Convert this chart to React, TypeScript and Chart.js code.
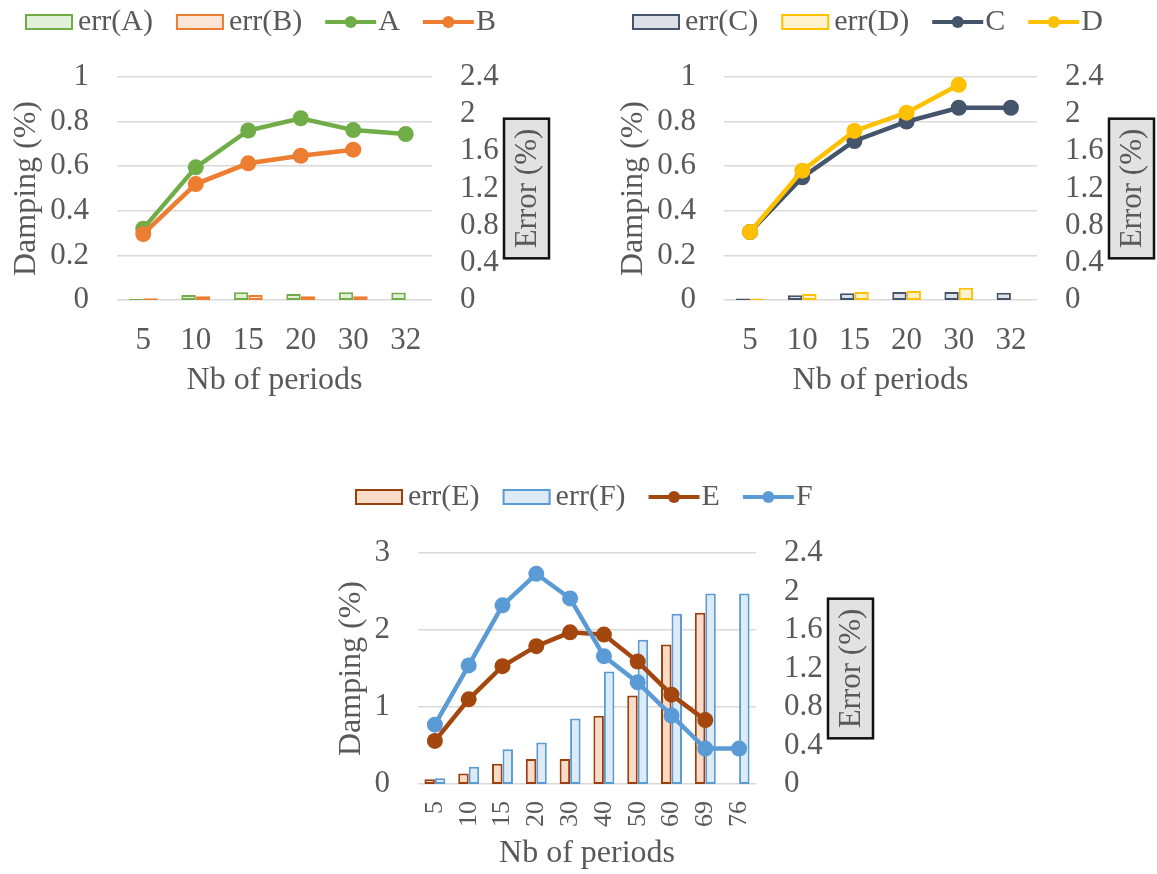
import React, { useEffect, useRef } from 'react';
import { Chart, registerables } from 'chart.js';

Chart.register(...registerables);

const FONT = '"Liberation Serif", "Times New Roman", serif';
const TEXT = '#595959';
const GRID = '#d9d9d9';

// ---------- Chart 1 (A / B) ----------
const periodsAB = ['5', '10', '15', '20', '30', '32'];
const dampA = [0.32, 0.595, 0.76, 0.815, 0.762, 0.744];
const dampB = [0.296, 0.52, 0.613, 0.647, 0.674, null];
const errA = [0.01, 0.054, 0.083, 0.065, 0.083, 0.08];
const errB = [0.018, 0.04, 0.054, 0.04, 0.04, null];

// ---------- Chart 2 (C / D) ----------
const periodsCD = ['5', '10', '15', '20', '30', '32'];
const dampC = [0.305, 0.55, 0.713, 0.8, 0.862, 0.862];
const dampD = [0.305, 0.58, 0.758, 0.84, 0.965, null];
const errC = [0.015, 0.05, 0.072, 0.086, 0.086, 0.079];
const errD = [0.015, 0.065, 0.086, 0.097, 0.133, null];

// ---------- Chart 3 (E / F) ----------
const periodsEF = ['5', '10', '15', '20', '30', '40', '50', '60', '69', '76'];
const dampE = [0.56, 1.1, 1.53, 1.79, 1.97, 1.94, 1.59, 1.16, 0.83, null];
const dampF = [0.77, 1.54, 2.32, 2.73, 2.41, 1.66, 1.32, 0.89, 0.46, 0.46];
const errE = [0.05, 0.11, 0.21, 0.26, 0.26, 0.71, 0.92, 1.45, 1.78, null];
const errF = [0.06, 0.18, 0.36, 0.43, 0.68, 1.17, 1.5, 1.77, 1.98, 1.98];

// ---------- Tick values ----------
const dampTicksTop = [0, 0.2, 0.4, 0.6, 0.8, 1];
const dampTicksBottom = [0, 1, 2, 3];
const errTicks = [0, 0.4, 0.8, 1.2, 1.6, 2, 2.4];

const fmt = (v: any) => String(parseFloat(Number(v).toFixed(1)));

type Series = { label: string; data: (number | null)[]; color: string; fill?: string };

type Props = {
  labels: string[];
  bars: Series[];
  lines: Series[];
  dampTicks: number[];
  left: number;
  top: number;
  w: number;
  h: number;
  areaLeft: number;
  rightW: number;
  areaTop: number;
  xHeight: number;
  yTitlePad: number;
  xTickSize: number;
  xTickPad: number;
  xRotate: number;
  xTitlePad: number;
  catPct: number;
  legendX: number;
  legendY: number;
  pointR: number;
};

const legendPlugin = (x0: number, y: number) => ({
  id: 'customLegend',
  afterDraw(chart: any) {
    const ctx = chart.ctx;
    ctx.save();
    ctx.font = `30px ${FONT}`;
    ctx.textBaseline = 'middle';
    ctx.textAlign = 'left';
    let x = x0;
    chart.data.datasets.forEach((ds: any) => {
      if (ds.type === 'bar') {
        ctx.fillStyle = ds.backgroundColor;
        ctx.fillRect(x, y - 8, 48, 16);
        ctx.strokeStyle = ds.borderColor;
        ctx.lineWidth = 2;
        ctx.strokeRect(x + 1, y - 7, 46, 14);
        x += 48 + 5;
      } else {
        ctx.strokeStyle = ds.borderColor;
        ctx.lineWidth = 4;
        ctx.beginPath();
        ctx.moveTo(x, y);
        ctx.lineTo(x + 51, y);
        ctx.stroke();
        ctx.fillStyle = ds.borderColor;
        ctx.beginPath();
        ctx.arc(x + 25.5, y, 6, 0, Math.PI * 2);
        ctx.fill();
        x += 51 + 2;
      }
      ctx.fillStyle = TEXT;
      ctx.fillText(ds.label, x, y);
      x += ctx.measureText(ds.label).width + 23;
    });
    ctx.restore();
  },
});

const errorBoxPlugin = {
  id: 'errorBox',
  afterDraw(chart: any) {
    const { ctx, chartArea } = chart;
    ctx.save();
    ctx.font = `31px ${FONT}`;
    const text = 'Error (%)';
    const tw = ctx.measureText(text).width;
    const bw = 45;
    const bh = tw + 20;
    const cx = chartArea.right + 72 + bw / 2;
    const cy = (chartArea.top + chartArea.bottom) / 2;
    ctx.fillStyle = '#e2e2e2';
    ctx.fillRect(cx - bw / 2, cy - bh / 2, bw, bh);
    ctx.strokeStyle = '#111111';
    ctx.lineWidth = 2.5;
    ctx.strokeRect(cx - bw / 2, cy - bh / 2, bw, bh);
    ctx.translate(cx, cy);
    ctx.rotate(-Math.PI / 2);
    ctx.fillStyle = TEXT;
    ctx.textAlign = 'center';
    ctx.textBaseline = 'middle';
    ctx.fillText(text, 0, 1);
    ctx.restore();
  },
};

function ComboChart(p: Props) {
  const ref = useRef<HTMLCanvasElement>(null);
  useEffect(() => {
    const datasets: any[] = [];
    p.bars.forEach((b) => {
      datasets.push({
        type: 'bar',
        label: b.label,
        data: b.data,
        yAxisID: 'y1',
        backgroundColor: b.fill,
        borderColor: b.color,
        borderWidth: 2,
        borderSkipped: false,
        barPercentage: 1,
        categoryPercentage: p.catPct,
        order: 5,
      });
    });
    p.lines.forEach((l, i) => {
      datasets.push({
        type: 'line',
        label: l.label,
        data: l.data,
        yAxisID: 'y',
        borderColor: l.color,
        backgroundColor: l.color,
        borderWidth: 4.5,
        pointRadius: p.pointR,
        pointHoverRadius: p.pointR,
        pointBackgroundColor: l.color,
        pointBorderColor: l.color,
        pointBorderWidth: 0,
        tension: 0,
        fill: false,
        order: p.lines.length - i,
      });
    });
    const chart = new Chart(ref.current as HTMLCanvasElement, {
      type: 'bar',
      data: { labels: p.labels, datasets },
      options: {
        responsive: false,
        animation: false,
        devicePixelRatio: 1,
        layout: { padding: { top: p.areaTop, left: 0, right: 0, bottom: 0 } },
        plugins: { legend: { display: false }, tooltip: { enabled: false } },
        scales: {
          x: {
            type: 'category',
            offset: true,
            grid: { display: false, drawTicks: false },
            border: { display: false },
            ticks: {
              color: TEXT,
              font: { family: FONT, size: p.xTickSize },
              padding: p.xTickPad,
              minRotation: p.xRotate,
              maxRotation: p.xRotate,
              autoSkip: false,
            },
            title: {
              display: true,
              text: 'Nb of periods',
              color: TEXT,
              font: { family: FONT, size: 32 },
              padding: { top: 0, bottom: p.xTitlePad },
            },
            afterFit: (s: any) => {
              s.height = p.xHeight;
            },
          },
          y: {
            position: 'left',
            min: p.dampTicks[0],
            max: p.dampTicks[p.dampTicks.length - 1],
            afterBuildTicks: (s: any) => {
              s.ticks = p.dampTicks.map((v) => ({ value: v }));
            },
            grid: { color: GRID, lineWidth: 1.5, drawTicks: false },
            border: { display: false },
            ticks: {
              color: TEXT,
              font: { family: FONT, size: 31 },
              padding: 28,
              autoSkip: false,
              callback: fmt,
            },
            title: {
              display: true,
              text: 'Damping (%)',
              color: TEXT,
              font: { family: FONT, size: 32 },
              padding: { top: p.yTitlePad, bottom: 0 },
            },
            afterFit: (s: any) => {
              s.width = p.areaLeft;
            },
          },
          y1: {
            position: 'right',
            min: errTicks[0],
            max: errTicks[errTicks.length - 1],
            afterBuildTicks: (s: any) => {
              s.ticks = errTicks.map((v) => ({ value: v }));
            },
            grid: { display: false, drawTicks: false },
            border: { display: false },
            ticks: {
              color: TEXT,
              font: { family: FONT, size: 31 },
              padding: 28,
              autoSkip: false,
              callback: fmt,
            },
            afterFit: (s: any) => {
              s.width = p.rightW;
            },
          },
        },
      },
      plugins: [legendPlugin(p.legendX, p.legendY), errorBoxPlugin],
    } as any);
    return () => chart.destroy();
  }, []);
  return (
    <canvas
      ref={ref}
      width={p.w}
      height={p.h}
      style={{ position: 'absolute', left: p.left, top: p.top, width: p.w, height: p.h, display: 'block' }}
    />
  );
}

export default function App() {
  return (
    <div style={{ position: 'absolute', left: 0, top: 0, width: 1157, height: 874, background: '#ffffff' }}>
      <ComboChart
        labels={periodsAB}
        bars={[
          { label: 'err(A)', data: errA, color: '#70ad47', fill: '#e2f0d9' },
          { label: 'err(B)', data: errB, color: '#ed7d31', fill: '#fbe5d6' },
        ]}
        lines={[
          { label: 'A', data: dampA, color: '#70ad47' },
          { label: 'B', data: dampB, color: '#ed7d31' },
        ]}
        dampTicks={dampTicksTop}
        left={0}
        top={0}
        w={560}
        h={400}
        areaLeft={117}
        rightW={128}
        areaTop={77}
        xHeight={100}
        yTitlePad={7}
        xTickSize={31}
        xTickPad={22}
        xRotate={0}
        xTitlePad={0}
        catPct={0.55}
        legendX={25}
        legendY={22}
        pointR={8}
      />
      <ComboChart
        labels={periodsCD}
        bars={[
          { label: 'err(C)', data: errC, color: '#44546a', fill: '#dde1e7' },
          { label: 'err(D)', data: errD, color: '#ffc000', fill: '#fff2cc' },
        ]}
        lines={[
          { label: 'C', data: dampC, color: '#44546a' },
          { label: 'D', data: dampD, color: '#ffc000' },
        ]}
        dampTicks={dampTicksTop}
        left={600}
        top={0}
        w={557}
        h={400}
        areaLeft={124}
        rightW={120}
        areaTop={77}
        xHeight={100}
        yTitlePad={14}
        xTickSize={31}
        xTickPad={22}
        xRotate={0}
        xTitlePad={0}
        catPct={0.55}
        legendX={32}
        legendY={22}
        pointR={8}
      />
      <ComboChart
        labels={periodsEF}
        bars={[
          { label: 'err(E)', data: errE, color: '#9c3f0e', fill: '#f8dcc8' },
          { label: 'err(F)', data: errF, color: '#5b9bd5', fill: '#ddebf7' },
        ]}
        lines={[
          { label: 'E', data: dampE, color: '#a3470f' },
          { label: 'F', data: dampF, color: '#5b9bd5' },
        ]}
        dampTicks={dampTicksBottom}
        left={330}
        top={470}
        w={560}
        h={404}
        areaLeft={88}
        rightW={134}
        areaTop={83}
        xHeight={90}
        yTitlePad={2}
        xTickSize={26}
        xTickPad={17}
        xRotate={90}
        xTitlePad={1}
        catPct={0.62}
        legendX={25}
        legendY={27}
        pointR={8}
      />
    </div>
  );
}
